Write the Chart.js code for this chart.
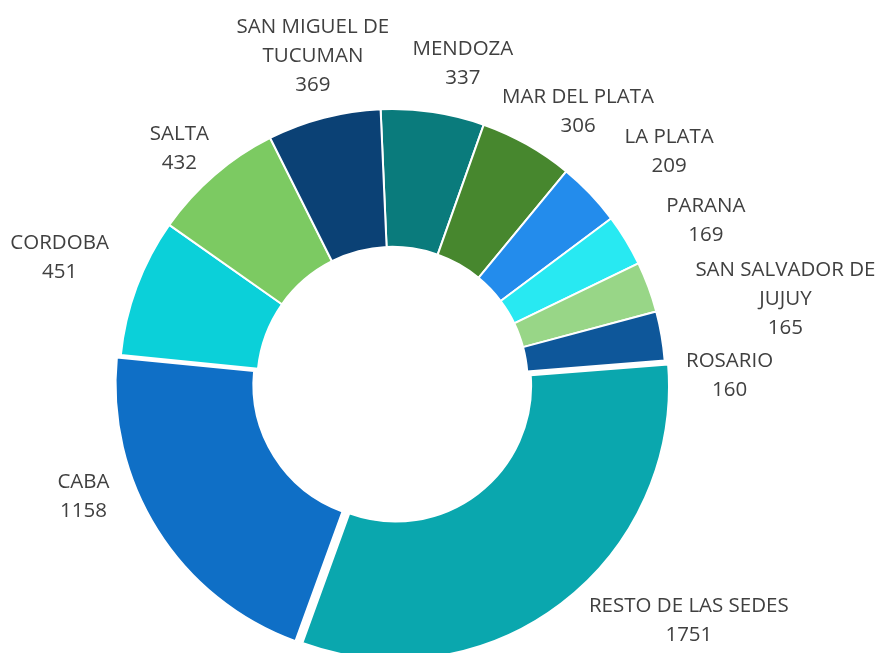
<!DOCTYPE html>
<html>
<head>
<meta charset="utf-8">
<script src="https://cdn.jsdelivr.net/npm/chart.js@4.4.1/dist/chart.umd.min.js"></script>
<style>
    html, body { margin: 0; padding: 0; background: #ffffff; }
    #wrap { width: 881px; height: 653px; }
</style>
</head>
<body>
<div id="wrap"><canvas id="donut" width="881" height="653"></canvas></div>
<script>
// Data, clockwise from the top
const sedes = [
    'MENDOZA', 'MAR DEL PLATA', 'LA PLATA', 'PARANA', ['SAN SALVADOR DE', 'JUJUY'],
    'ROSARIO', 'RESTO DE LAS SEDES', 'CABA', 'CORDOBA', 'SALTA', ['SAN MIGUEL DE', 'TUCUMAN']
];
const alumnos = [337, 306, 209, 169, 165, 160, 1751, 1158, 451, 432, 369];

const sliceColors = [
    '#0A7B7C', '#47872E', '#238CEC', '#28E9F2', '#98D687',
    '#0E579A', '#0AA7AE', '#0F6FC6', '#0BD0D9', '#7CCA62', '#0B4175'
];
// pulled-out slices (RESTO, CABA)
const sliceOffsets = [0, 0, 0, 0, 0, 0, 20, 18, 0, 0, 0];

// label nudges from the outer edge of each slice's mid angle
const labelShift = [
    [30, -48], [51, -33], [79, -42], [80, -20], [137, 12],
    [68, 40], [131, 21], [-78, -31], [-77, -29], [-35, -27], [-11, -62]
];

// Draw category + value labels outside the ring
const outsideLabels = {
    id: 'outsideLabels',
    afterDatasetsDraw(chart) {
        const ctx = chart.ctx;
        const meta = chart.getDatasetMeta(0);
        const lineH = 29;
        ctx.save();
        ctx.font = '20.5px "Open Sans", "Noto Sans", sans-serif';
        ctx.fillStyle = '#404040';
        ctx.textAlign = 'center';
        ctx.textBaseline = 'middle';
        meta.data.forEach((arc, i) => {
            const mid = (arc.startAngle + arc.endAngle) / 2;
            const ax = arc.x + Math.cos(mid) * arc.outerRadius + labelShift[i][0];
            const ay = arc.y + Math.sin(mid) * arc.outerRadius + labelShift[i][1];
            const name = chart.data.labels[i];
            const lines = (Array.isArray(name) ? name : [name]).concat([String(alumnos[i])]);
            const top = ay - (lines.length - 1) * lineH / 2;
            lines.forEach((txt, k) => ctx.fillText(txt, ax, top + k * lineH));
        });
        ctx.restore();
    }
};

new Chart(document.getElementById('donut').getContext('2d'), {
    type: 'doughnut',
    data: {
        labels: sedes,
        datasets: [{
            data: alumnos,
            backgroundColor: sliceColors,
            borderColor: '#ffffff',
            borderWidth: 2,
            offset: sliceOffsets,
            hoverOffset: 0
        }]
    },
    options: {
        responsive: false,
        animation: false,
        radius: 273,
        cutout: '49.5%',
        rotation: -2.5,
        clip: false,
        layout: {
            padding: { left: 0, right: 96, top: 111, bottom: 0 }
        },
        plugins: {
            legend: { display: false },
            tooltip: { enabled: false }
        }
    },
    plugins: [outsideLabels]
});
</script>
</body>
</html>
